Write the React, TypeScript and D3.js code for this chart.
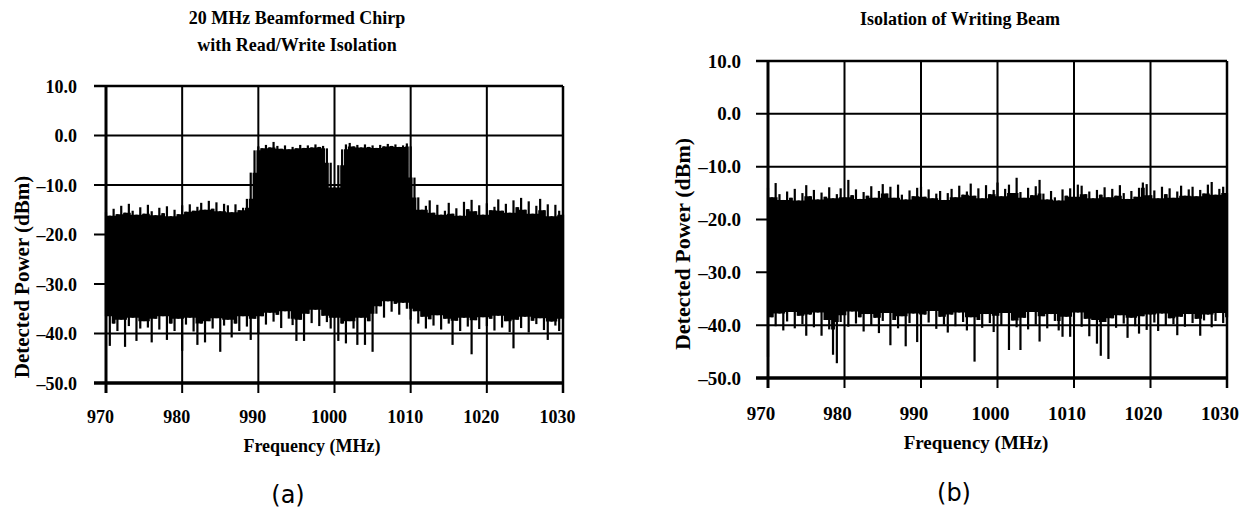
import React from 'react';
import * as d3 from 'd3';

// ---------------- data ----------------
const FREQ_START = 970;
const FREQ_STEP = 0.5;
const xTicks = [970, 980, 990, 1000, 1010, 1020, 1030];
const yTicks = [10, 0, -10, -20, -30, -40, -50];
const yTickLabels = ['10.0', '0.0', '–10.0', '–20.0', '–30.0', '–40.0', '–50.0'];
const titleA = ['20 MHz Beamformed Chirp', 'with Read/Write Isolation'];
const titleB = ['Isolation of Writing Beam'];
const xAxisTitle = 'Frequency (MHz)';
const yAxisTitle = 'Detected Power (dBm)';

// panel (a): peak (upper) and trough (lower) envelope, dBm, every 0.5 MHz from 970
const chirpHi = [
  -15.5, -16.2, -14.8, -15.9, -14.2, -15.6, -13.8, -15.2, -16.0, -14.5, // 970
  -15.8, -14.0, -15.3, -16.1, -14.6, -15.7, -14.3, -16.3, -15.0, -15.9, // 975
  -14.1, -15.4, -13.9, -15.2, -14.4, -13.6, -15.0, -13.2, -14.8, -13.5, // 980
  -15.3, -13.8, -14.1, -15.5, -13.9, -15.1, -14.6, -12.8, -7.5, -3.0, // 985
  -2.2, -2.6, -1.9, -2.4, -1.3, -2.1, -2.7, -2.0, -2.8, -2.3, // 990
  -2.6, -1.9, -2.5, -2.0, -2.4, -1.8, -2.3, -2.1, -2.6, -5.5, // 995
  -10.5, -6.0, -2.8, -1.8, -1.5, -2.2, -1.9, -2.4, -1.8, -2.3, // 1000
  -2.0, -2.5, -1.9, -2.2, -1.7, -2.1, -1.8, -2.3, -2.0, -1.6, // 1005
  -2.2, -8.5, -12.5, -15.0, -14.2, -13.1, -15.6, -14.0, -16.0, -15.2, // 1010
  -13.6, -15.8, -14.7, -16.2, -13.4, -14.9, -13.0, -15.3, -14.1, -16.0, // 1015
  -13.7, -15.1, -14.4, -12.9, -15.2, -13.8, -15.6, -13.1, -14.5, -12.6, // 1020
  -15.0, -13.3, -15.8, -14.2, -12.8, -15.1, -13.9, -16.3, -14.0, -15.2, // 1025
  -16.0, // 1030
];
const chirpLo = [
  -36.5, -42.5, -38.0, -39.5, -37.2, -42.7, -38.5, -36.8, -41.5, -39.0,
  -37.5, -38.8, -41.8, -37.0, -39.2, -36.5, -41.3, -38.0, -39.5, -37.0,
  -43.5, -38.2, -36.8, -39.6, -42.3, -38.0, -41.8, -37.5, -39.0, -36.9,
  -43.7, -38.4, -37.2, -40.8, -38.0, -39.5, -36.5, -38.6, -41.3, -37.0,
  -40.0, -36.5, -38.2, -35.8, -37.6, -36.2, -38.9, -35.5, -37.0, -38.3,
  -41.5, -37.2, -41.5, -36.0, -37.9, -35.2, -38.5, -36.4, -37.7, -39.0,
  -36.8, -41.5, -38.0, -42.0, -37.5, -39.0, -42.3, -36.8, -42.3, -37.5,
  -43.7, -36.0, -34.5, -36.8, -33.5, -35.6, -34.0, -36.2, -33.8, -35.0,
  -37.2, -35.5, -38.0, -36.6, -39.0, -37.1, -38.4, -36.3, -39.2, -37.0,
  -38.0, -42.3, -37.4, -39.5, -36.8, -38.6, -44.2, -37.3, -39.1, -36.7,
  -38.5, -37.0, -39.4, -36.4, -38.8, -37.5, -39.7, -43.0, -37.2, -38.9,
  -36.6, -39.8, -37.4, -38.1, -36.9, -39.3, -41.3, -37.6, -38.4, -39.5,
  -37.0,
];

// panel (b)
const writeHi = [
  -14.0, -15.8, -13.1, -15.2, -16.3, -14.7, -15.9, -14.2, -16.4, -15.0,
  -13.5, -15.6, -14.4, -16.2, -14.9, -15.7, -13.9, -16.0, -15.2, -14.1,
  -15.8, -12.5, -15.4, -14.3, -16.1, -14.8, -15.5, -13.7, -15.9, -14.6,
  -13.3, -15.1, -13.8, -15.9, -13.4, -15.3, -16.2, -14.5, -15.6, -14.0,
  -13.8, -15.7, -14.3, -16.0, -15.1, -14.6, -16.3, -15.0, -14.2, -15.8,
  -13.6, -15.3, -14.7, -13.2, -15.5, -14.1, -16.0, -13.5, -15.2, -14.4,
  -13.0, -15.6, -14.2, -13.4, -15.0, -12.1, -14.8, -15.9, -14.0, -15.4,
  -13.7, -12.5, -15.1, -16.2, -14.6, -15.8, -16.4, -14.3, -15.5, -14.1,
  -15.7, -13.4, -13.6, -15.2, -14.7, -16.0, -14.4, -15.3, -13.9, -15.8,
  -14.2, -15.5, -13.5, -15.0, -16.1, -14.6, -15.7, -14.0, -13.0, -13.3,
  -15.4, -14.5, -16.0, -13.8, -15.2, -14.1, -15.9, -14.7, -13.6, -15.5,
  -14.3, -13.8, -15.6, -14.4, -15.1, -13.4, -12.9, -15.3, -14.2, -13.8,
  -15.0,
];
const writeLo = [
  -46.0, -38.5, -40.2, -37.8, -41.0, -39.3, -37.5, -40.6, -38.2, -39.8,
  -42.0, -38.0, -40.4, -37.6, -42.0, -39.0, -40.8, -45.6, -47.2, -39.4,
  -38.1, -40.3, -37.4, -39.7, -38.5, -41.2, -37.9, -40.0, -38.6, -41.5,
  -39.2, -37.7, -43.8, -39.0, -40.6, -38.3, -44.0, -39.6, -37.8, -43.2,
  -40.1, -38.0, -39.5, -37.3, -40.7, -38.4, -39.9, -41.4, -38.0, -40.2,
  -37.6, -39.4, -41.0, -38.5, -46.9, -39.0, -40.5, -37.9, -39.6, -41.3,
  -38.2, -40.0, -37.7, -44.7, -39.1, -40.4, -44.7, -38.6, -40.8, -37.5,
  -39.9, -43.1, -38.3, -40.6, -37.9, -39.2, -41.0, -42.2, -38.4, -42.2,
  -39.5, -37.6, -40.3, -38.8, -42.1, -39.0, -43.5, -45.8, -39.4, -46.4,
  -38.7, -40.5, -38.1, -39.7, -42.4, -38.6, -40.2, -41.6, -38.3, -40.9,
  -38.0, -39.5, -41.1, -37.8, -40.0, -38.7, -39.8, -41.9, -38.4, -40.3,
  -37.9, -39.6, -38.8, -42.0, -39.1, -38.0, -40.4, -39.2, -37.7, -39.6,
  -38.5,
];

// ---------------- layout ----------------
const SERIF = '"Liberation Serif", "Times New Roman", Times, serif';
const SANS = '"DejaVu Sans", "Noto Sans", sans-serif';

type Layout = {
  left: number; right: number; top: number; bottom: number;
  tickFont: number; yLabelX: number; xLabelShift: number; xLabelY: number;
  yTitleX: number; yTitleY: number; yTitleFont: number; xTitleX: number; xTitleY: number;
  titleX: number; titleY: number; titleGap: number;
  tagX: number; tagY: number; tag: string;
};

const layoutA: Layout = {
  left: 106, right: 563, top: 86, bottom: 383,
  tickFont: 18, yLabelX: 77, xLabelShift: -5.5, xLabelY: 423,
  yTitleX: 22, yTitleY: 277, yTitleFont: 21, xTitleX: 312, xTitleY: 452,
  titleX: 297, titleY: 24, titleGap: 27,
  tagX: 288, tagY: 503, tag: '(a)',
};
const layoutB: Layout = {
  left: 768, right: 1227, top: 61, bottom: 378,
  tickFont: 19, yLabelX: 741, xLabelShift: -7, xLabelY: 420,
  yTitleX: 682, yTitleY: 244, yTitleFont: 22, xTitleX: 976, xTitleY: 449,
  titleX: 960, titleY: 25, titleGap: 27,
  tagX: 954, tagY: 501, tag: '(b)',
};

function Panel({ hi, lo, L, title }: { hi: number[]; lo: number[]; L: Layout; title: string[] }) {
  const x = d3.scaleLinear().domain([970, 1030]).range([L.left, L.right]);
  const y = d3.scaleLinear().domain([-50, 10]).range([L.bottom, L.top]);
  const n = hi.length;
  const freqs = hi.map((_, i) => FREQ_START + i * FREQ_STEP);
  const nb = (arr: number[], i: number, f: (...v: number[]) => number) =>
    f(arr[i], arr[Math.max(0, i - 1)], arr[Math.min(n - 1, i + 1)]);
  const bodyTop = hi.map((_, i) => nb(hi, i, Math.min));
  const bodyBot = lo.map((_, i) => nb(lo, i, Math.max));
  const area = d3
    .area<number>()
    .curve(d3.curveStep)
    .x((_, i) => x(freqs[i]))
    .y0((_, i) => y(bodyBot[i]))
    .y1((_, i) => y(bodyTop[i]));

  return (
    <g>
      {title.map((t, i) => (
        <text key={t} x={L.titleX} y={L.titleY + i * L.titleGap} textAnchor="middle"
          fontFamily={SERIF} fontWeight="bold" fontSize={18}>{t}</text>
      ))}
      {/* horizontal grid + left ticks */}
      {yTicks.map((t, i) => (
        <line key={'h' + t} x1={L.left - 12} x2={L.right} y1={y(t)} y2={y(t)} stroke="#000"
          strokeWidth={i === 0 ? 2.5 : i === yTicks.length - 1 ? 3.5 : 2} />
      ))}
      {/* vertical grid + bottom ticks */}
      {xTicks.map((t, i) => (
        <line key={'v' + t} x1={x(t)} x2={x(t)} y1={L.top} y2={L.bottom + 10} stroke="#000"
          strokeWidth={i === 0 ? 3 : i === xTicks.length - 1 ? 2.5 : 2} />
      ))}
      {/* data body */}
      <path d={area(freqs) || ''} fill="#000" />
      {/* spikes */}
      {freqs.map((f, i) => (
        <rect key={'s' + i} x={x(f) - 1.1} width={2.2} y={y(hi[i])} height={y(lo[i]) - y(hi[i])} fill="#000" />
      ))}
      {/* y tick labels */}
      {yTicks.map((t, i) => (
        <text key={'yl' + t} x={L.yLabelX} y={y(t) + 6.5} textAnchor="end" fontFamily={SERIF}
          fontWeight="bold" fontSize={L.tickFont}>{yTickLabels[i]}</text>
      ))}
      {/* x tick labels */}
      {xTicks.map((t) => (
        <text key={'xl' + t} x={x(t) + L.xLabelShift} y={L.xLabelY} textAnchor="middle" fontFamily={SERIF}
          fontWeight="bold" fontSize={L.tickFont}>{String(t)}</text>
      ))}
      <text x={L.xTitleX} y={L.xTitleY} textAnchor="middle" fontFamily={SERIF} fontWeight="bold"
        fontSize={L.tickFont}>{xAxisTitle}</text>
      <text transform={`translate(${L.yTitleX},${L.yTitleY}) rotate(-90)`} textAnchor="middle"
        dominantBaseline="central" fontFamily={SERIF} fontWeight="bold" fontSize={L.yTitleFont}>{yAxisTitle}</text>
      <text x={L.tagX} y={L.tagY} textAnchor="middle" fontFamily={SANS} fontSize={24}>{L.tag}</text>
    </g>
  );
}

export default function App() {
  return (
    <svg width={1244} height={513} style={{ position: 'absolute', left: 0, top: 0, background: '#fff' }}>
      <rect x={0} y={0} width={1244} height={513} fill="#fff" />
      <Panel hi={chirpHi} lo={chirpLo} L={layoutA} title={titleA} />
      <Panel hi={writeHi} lo={writeLo} L={layoutB} title={titleB} />
    </svg>
  );
}
